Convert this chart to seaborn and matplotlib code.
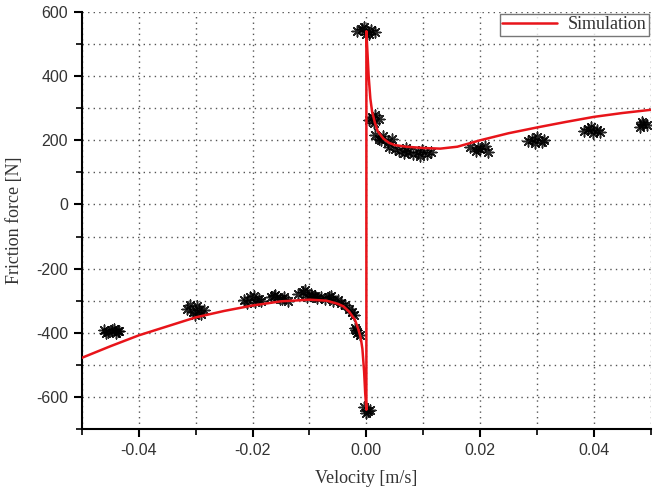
import matplotlib
matplotlib.use("Agg")
import matplotlib.pyplot as plt
from matplotlib.ticker import MultipleLocator
import seaborn as sns
import pandas as pd

# Experimental measurement points (velocity [m/s], friction force [N])
exp_v = [
    -0.0462, -0.0455, -0.0448, -0.0441, -0.0435, -0.0458, -0.0444, -0.0437,
    -0.0315, -0.0305, -0.0298, -0.0290, -0.0285, -0.0302, -0.0310, -0.0294,
    -0.0215, -0.0205, -0.0195, -0.0188, -0.0210, -0.0198, -0.0185,
    -0.0168, -0.0160, -0.0152, -0.0145, -0.0138, -0.0163, -0.0148,
    -0.0120, -0.0112, -0.0105, -0.0098, -0.0090, -0.0086, -0.0108, -0.0095,
    -0.0080, -0.0072, -0.0065, -0.0058, -0.0050, -0.0044, -0.0038, -0.0062,
    -0.0030, -0.0025, -0.0022,
    -0.0020, -0.0016, -0.0012, -0.0018,
    -0.0004, 0.0002, 0.0006, -0.0001,
    -0.0016, -0.0008, 0.0000, 0.0008, 0.0015, -0.0004, 0.0004,
    0.0004, 0.0010, 0.0016, 0.0022, 0.0013,
    0.0015, 0.0022, 0.0030, 0.0038, 0.0045, 0.0026,
    0.0040, 0.0050, 0.0058, 0.0066, 0.0074, 0.0082, 0.0090, 0.0098, 0.0106, 0.0113, 0.0070, 0.0095,
    0.0183, 0.0192, 0.0200, 0.0208, 0.0214, 0.0196,
    0.0284, 0.0292, 0.0300, 0.0308, 0.0313, 0.0297,
    0.0382, 0.0390, 0.0398, 0.0406, 0.0411, 0.0395,
    0.0481, 0.0487, 0.0493, 0.0485,
]
exp_f = [
    -392, -398, -390, -400, -394, -402, -388, -396,
    -325, -335, -318, -340, -328, -345, -314, -330,
    -298, -290, -305, -295, -308, -285, -300,
    -290, -282, -296, -288, -300, -285, -294,
    -280, -272, -290, -278, -285, -292, -268, -284,
    -288, -295, -290, -300, -298, -306, -312, -285,
    -325, -335, -345,
    -385, -400, -408, -392,
    -632, -645, -640, -650,
    540, 548, 532, 545, 538, 552, 530,
    262, 272, 280, 265, 255,
    218, 205, 212, 195, 205, 200,
    178, 172, 168, 160, 165, 158, 162, 170, 158, 165, 175, 152,
    178, 168, 172, 182, 165, 175,
    198, 205, 210, 195, 202, 190,
    228, 235, 222, 232, 225, 240,
    242, 252, 248, 258,
]

# Simulation curve
sim_v = [-0.05, -0.045, -0.04, -0.035, -0.03, -0.025, -0.02, -0.015, -0.01,
         -0.007, -0.005, -0.004, -0.003, -0.002, -0.0014, -0.001, -0.0007,
         -0.0004, -0.0002, 0.0, 0.0, 0.0002, 0.0004, 0.0007, 0.001, 0.0015,
         0.002, 0.003, 0.004, 0.005, 0.007, 0.01, 0.013, 0.016, 0.02, 0.025,
         0.03, 0.035, 0.04, 0.045, 0.05]
sim_f = [-478, -442, -408, -380, -352, -332, -315, -302, -297,
         -300, -310, -318, -335, -360, -390, -415, -450,
         -520, -590, -640, 540, 470, 400, 330, 290, 255,
         228, 205, 192, 185, 180, 176, 174, 180, 200, 222,
         240, 257, 273, 285, 295]

x_ticks = [-0.04, -0.02, 0.00, 0.02, 0.04]
y_ticks = [-600, -400, -200, 0, 200, 400, 600]

sns.set_style("ticks")
plt.rcParams['font.family'] = ['Liberation Sans', 'DejaVu Sans']

fig = plt.figure(figsize=(6.58, 4.91), dpi=100)
ax = fig.add_axes([0.1246, 0.1263, 0.8644, 0.8493])

df_exp = pd.DataFrame({"v": exp_v, "f": exp_f})
df_sim = pd.DataFrame({"v": sim_v, "f": sim_f, "s": ["Simulation"] * len(sim_v)})

sns.scatterplot(data=df_exp, x="v", y="f", ax=ax, marker=(8, 2, 0), s=60,
                color="black", linewidth=1.1, alpha=0.85, legend=False, zorder=3)
sns.lineplot(data=df_sim, x="v", y="f", ax=ax, sort=False, estimator=None,
             color="#e8141a", linewidth=1.8, label="Simulation", zorder=4)

ax.set_xlim(-0.05, 0.05)
ax.set_ylim(-700, 600)
ax.set_xticks(x_ticks)
ax.set_xticklabels([f"{t:.2f}" for t in x_ticks])
ax.set_yticks(y_ticks)
ax.set_yticklabels([f"{t}" for t in y_ticks])
ax.xaxis.set_minor_locator(MultipleLocator(0.01))
ax.yaxis.set_minor_locator(MultipleLocator(100))

ax.grid(True, which="both", color="#555555", linestyle=(0, (1, 3)), linewidth=1.0)
ax.set_axisbelow(True)

for side in ["top", "right"]:
    ax.spines[side].set_visible(False)
for side in ["left", "bottom"]:
    ax.spines[side].set_linewidth(1.5)
    ax.spines[side].set_color("black")

ax.tick_params(which="major", direction="out", length=6, width=1.5, pad=4,
               labelsize=11.5, colors="black", labelcolor="#333333")
ax.tick_params(which="minor", direction="out", length=4, width=1.2, colors="black")

ax.set_xlabel("Velocity [m/s]", family=["Liberation Serif"], fontsize=13,
              color="#333333", labelpad=9)
ax.set_ylabel("Friction force [N]", family=["Liberation Serif"], fontsize=13,
              color="#333333", labelpad=9)

leg = ax.legend(loc="upper right", frameon=True, fancybox=False,
                prop={"family": "Liberation Serif", "size": 13},
                borderpad=0.15, handlelength=3.0, handletextpad=0.6,
                borderaxespad=0.1)
leg.get_frame().set_edgecolor("#555555")
leg.get_frame().set_linewidth(1.0)
for t in leg.get_texts():
    t.set_color("#333333")

fig.savefig("out.png", dpi=100)
